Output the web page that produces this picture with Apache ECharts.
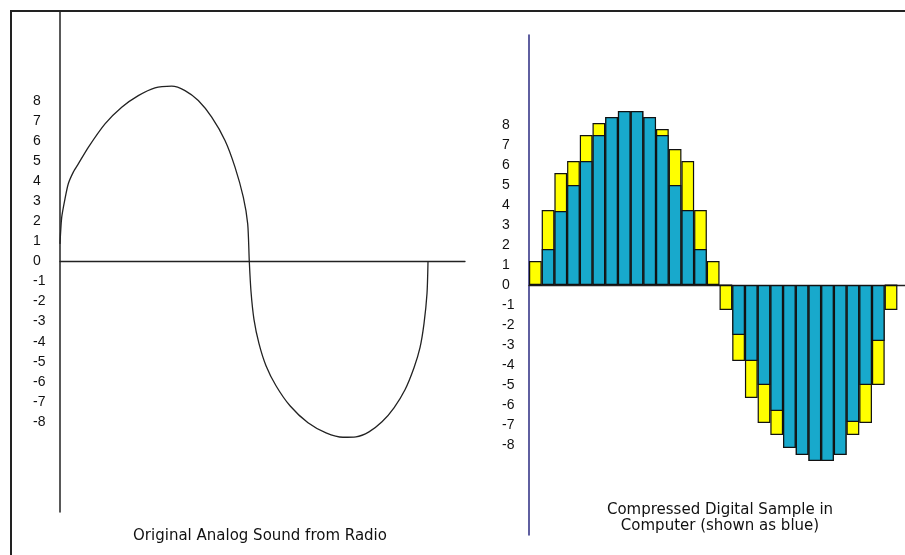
<!DOCTYPE html>
<html>
<head>
<meta charset="utf-8">
<script src="https://cdn.jsdelivr.net/npm/echarts@6/dist/echarts.min.js"></script>
<style>
html,body{margin:0;padding:0;background:#fff;}
#chart{width:905px;height:555px;}
</style>
</head>
<body>
<div id="chart"></div>
<script>
// ---- Data ----
const yTickLabels = [8, 7, 6, 5, 4, 3, 2, 1, 0, -1, -2, -3, -4, -5, -6, -7, -8];

// Analog curve (time units, amplitude)
const analogT = [0, 1.7, 5, 8.3, 13.3, 18.3, 28.3, 45, 61.7, 78.3, 95, 111.7, 125, 138.3, 151.7, 165, 175, 183.3, 187.7, 189.3,
                 191, 194, 199, 206, 216, 230, 248, 266, 283, 296, 309, 322, 334, 345, 354, 360, 364, 367, 368];
const analogV = [0.88, 2.2, 3.13, 3.88, 4.46, 4.87, 5.7, 6.87, 7.7, 8.28, 8.67, 8.75, 8.53, 8.03, 7.2, 6.04, 4.71, 3.21, 1.88, 0,
                 -1.5, -2.9, -4.1, -5.2, -6.2, -7.2, -8.05, -8.55, -8.77, -8.75, -8.5, -8.0, -7.3, -6.4, -5.3, -4.3, -3.1, -1.6, 0];

// Digital samples (sample number, amplitude)
const sampleIndex = [1, 2, 3, 4, 5, 6, 7, 8, 9, 10, 11, 12, 13, 14, 15,
                     16, 17, 18, 19, 20, 21, 22, 23, 24, 25, 26, 27, 28, 29];
const yellowSamples = [1.2, 3.75, 5.6, 6.2, 7.5, 8.1, 8.4, 8.7, 8.7, 8.4, 7.8, 6.8, 6.2, 3.75, 1.2,
                       -1.25, -3.8, -5.65, -6.9, -7.5, -8.15, -8.5, -8.8, -8.8, -8.5, -7.5, -6.9, -5.0, -1.25];
const blueSamples = [0, 1.8, 3.7, 5.0, 6.2, 7.5, 8.4, 8.7, 8.7, 8.4, 7.5, 5.0, 3.75, 1.8, 0,
                     0, -2.5, -3.8, -5.0, -6.3, -8.15, -8.5, -8.8, -8.8, -8.5, -6.85, -5.0, -2.8, 0];

const captionLeft = 'Original Analog Sound from Radio';
const captionRight = 'Compressed Digital Sample in\nComputer (shown as blue)';

// ---- Chart ----
const chart = echarts.init(document.getElementById('chart'), null, {renderer: 'canvas'});
const FONT = 'Liberation Sans, Arial, sans-serif';
const CAPFONT = '"DejaVu Sans", Arial, sans-serif';

const yAxisCommon = {
  type: 'value', min: -12.5, max: 12.5,
  splitLine: {show: false},
  axisTick: {show: false},
  axisLabel: {customValues: yTickLabels, color: '#111', fontSize: 14, fontFamily: FONT, align: 'left'}
};

chart.setOption({
  animation: false,
  backgroundColor: '#fff',
  grid: [
    {left: 60, top: 11, width: 405, height: 501},
    {left: 529, top: 35, width: 376, height: 500}
  ],
  xAxis: [
    {gridIndex: 0, type: 'value', min: 0, max: 405,
     axisLine: {onZero: true, lineStyle: {color: '#222', width: 1.3}},
     axisTick: {show: false}, axisLabel: {show: false}, splitLine: {show: false}},
    {gridIndex: 1, type: 'value', min: 0.5, max: 30.1,
     axisLine: {onZero: true, lineStyle: {color: '#222', width: 1.3}},
     axisTick: {show: false}, axisLabel: {show: false}, splitLine: {show: false}}
  ],
  yAxis: [
    Object.assign({}, yAxisCommon, {gridIndex: 0,
      axisLine: {show: true, onZero: false, lineStyle: {color: '#222', width: 1.5}},
      axisLabel: Object.assign({}, yAxisCommon.axisLabel, {margin: 27})}),
    Object.assign({}, yAxisCommon, {gridIndex: 1,
      axisLine: {show: true, onZero: false, lineStyle: {color: '#2a2a80', width: 1.5}},
      axisLabel: Object.assign({}, yAxisCommon.axisLabel, {margin: 27})})
  ],
  series: [
    {type: 'line', xAxisIndex: 0, yAxisIndex: 0, smooth: 0.25, showSymbol: false,
     lineStyle: {color: '#222', width: 1.3},
     data: analogT.map((t, i) => [t, analogV[i]])},
    {type: 'bar', xAxisIndex: 1, yAxisIndex: 1, barCategoryGap: '0%', barGap: '-100%',
     itemStyle: {color: '#ffff00', borderColor: '#111', borderWidth: 1.2},
     data: sampleIndex.map((s, i) => [s, yellowSamples[i]])},
    {type: 'bar', xAxisIndex: 1, yAxisIndex: 1, barCategoryGap: '0%', barGap: '-100%',
     itemStyle: {color: '#18a9cc', borderColor: '#111', borderWidth: 1.2},
     data: sampleIndex.map((s, i) => [s, blueSamples[i]])}
  ],
  graphic: [
    {type: 'polyline', shape: {points: [[11, 560], [11, 11], [910, 11]]},
     style: {stroke: '#222', lineWidth: 2, fill: null}, z: 10},
    {type: 'text', x: 260, y: 536,
     style: {text: captionLeft, textAlign: 'center', textVerticalAlign: 'middle',
             font: '15px ' + CAPFONT, fill: '#111'}},
    {type: 'text', x: 720, y: 518,
     style: {text: captionRight, textAlign: 'center', textVerticalAlign: 'middle',
             font: '15px ' + CAPFONT, fill: '#111', lineHeight: 16}}
  ]
});
</script>
</body>
</html>
